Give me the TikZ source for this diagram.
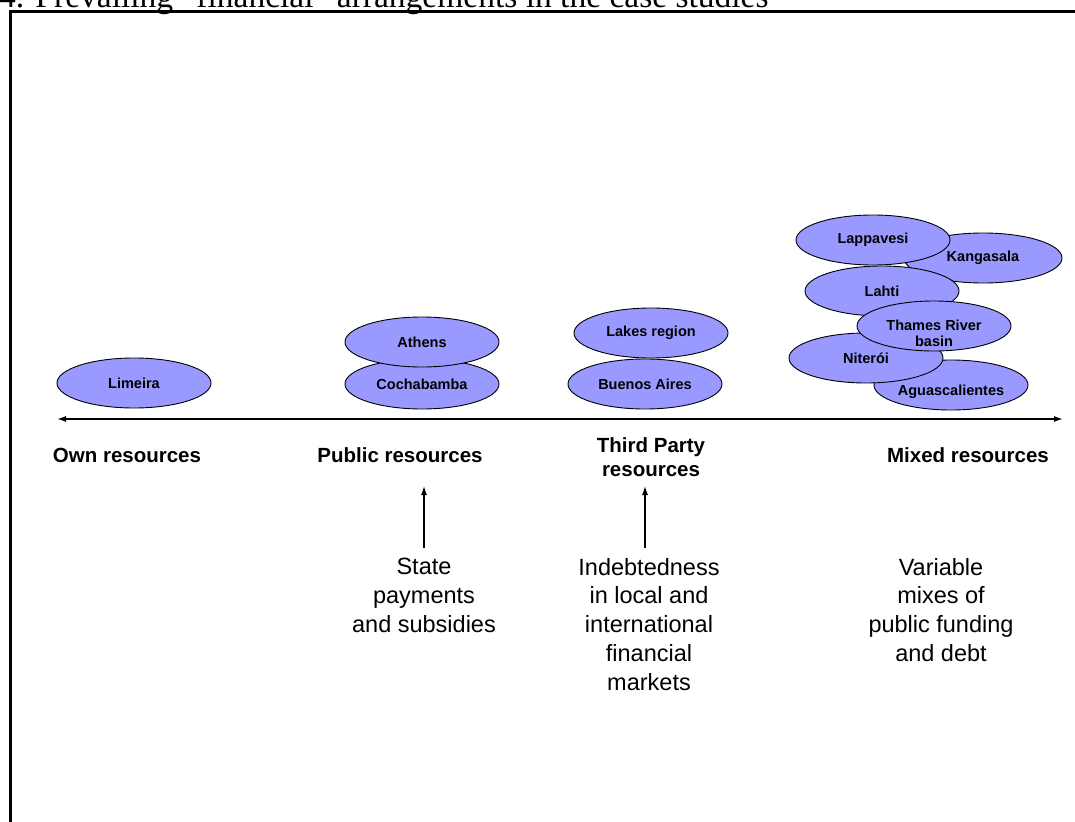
\documentclass[tikz,border=0pt]{standalone}
\usepackage{fontspec}
\setmainfont{Liberation Serif}
\newfontfamily\arial{Liberation Sans}
\usetikzlibrary{shapes.geometric, arrows.meta}
\definecolor{cityblue}{RGB}{153,153,255}

\begin{document}
\begin{tikzpicture}[x=1pt, y=-1pt,
    city/.style={ellipse, draw=black, line width=0.9pt, fill=cityblue,
      minimum width=154pt, minimum height=50pt, inner sep=0pt, align=center,
      font=\arial\bfseries\fontsize{14.5}{16}\selectfont},
    kind/.style={align=center, inner sep=0pt,
      font=\arial\bfseries\fontsize{20.5}{24}\selectfont},
    note/.style={align=center, inner sep=0pt, anchor=north,
      font=\arial\fontsize{23.5}{28.7}\selectfont},
    axis/.style={line width=1.5pt,
      {Latex[length=9pt,width=6pt]}-{Latex[length=9pt,width=6pt]}},
    uparrow/.style={line width=1.2pt, -{Latex[length=9pt,width=6pt]}}]
  \useasboundingbox (0,0) rectangle (1075,821);

  % title, cut by the page top
  \node[anchor=base west, inner sep=0pt, font=\fontsize{33.5}{36}\selectfont]
    (title) at (-1,7.5) {4. Prevailing "financial" arrangements in the case studies};
  \draw[line width=3pt] (1100,11.5) -- (10,11.5) -- (10,850);

  % case studies
  \node[city] (limeira) at (134,383) {Limeira};
  \node[city] (cochabamba) at (422,384) {Cochabamba};
  \node[city] (athens) at (422,342) {Athens};
  \node[city] (buenos) at (645,384) {Buenos Aires};
  \node[city] (lakes) at (651,333) {Lakes region};
  \node[city, minimum width=158pt] (kangasala) at (983,258) {Kangasala};
  \node[city] (lappavesi) at (873,240) {Lappavesi};
  \node[city] (lahti) at (882,291) {Lahti};
  \node[city] (aguas) at (951,385) {\rule{0pt}{24.5pt}Aguascalientes};
  \node[city] (niteroi) at (866,358) {Niterói};
  \node[city] (thames) at (934,326)
    {\raisebox{-20pt}[0pt][0pt]{\begin{tabular}[b]{@{}c@{}}Thames River\\basin\end{tabular}}};

  % axis
  \coordinate (axl) at (57,419); \coordinate (axr) at (1063,419);
  \draw[axis] (axl) -- (axr);

  \node[kind] (own) at (127,455) {Own resources};
  \node[kind] (public) at (400,455) {Public resources};
  \node[kind] (third) at (651,457.5) {Third Party\\resources};
  \node[kind] (mixed) at (968,455) {Mixed resources};

  % sources
  \node[note] (state) at (424,558) {State\\payments\\and subsidies};
  \node[note] (indebt) at (649,558) {Indebtedness\\in local and\\international\\financial\\markets};
  \node[note] (variable) at (941,558) {Variable\\mixes of\\public funding\\and debt};

  \coordinate (pubtip) at (424,486); \coordinate (thirdtip) at (645,486);
  \draw[uparrow, shorten <=10pt] (state.north) -- (pubtip);
  \draw[uparrow, shorten <=10pt] (indebt.north -| thirdtip) -- (thirdtip);
\end{tikzpicture}
\end{document}
